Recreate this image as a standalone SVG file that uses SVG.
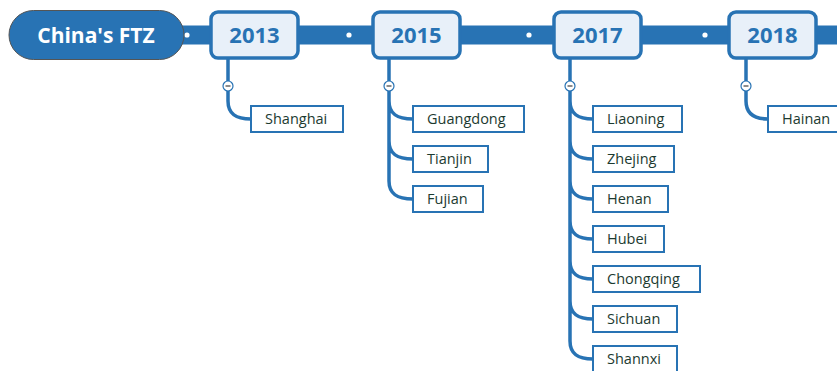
<svg xmlns="http://www.w3.org/2000/svg" width="837" height="371" viewBox="0 0 837 371">
<style>
.bar{fill:#2873b4}
.conn{fill:none;stroke:#2873b4;stroke-width:3.5;stroke-linecap:round}
.year rect{fill:#e8f0f9;stroke:#2873b4;stroke-width:3.5}
.year text{font-family:"Open Sans","Noto Sans",sans-serif;font-weight:bold;font-size:22px;fill:#2873b4;text-anchor:middle}
.child rect{fill:#fff;stroke:#2873b4;stroke-width:2}
.child text{font-family:"Open Sans","Noto Sans",sans-serif;font-size:14.5px;fill:#1c3a30}
.dot{fill:#fff}
.tog circle{fill:#fff;stroke:#2873b4;stroke-width:1.2}
.tog line{stroke:#666;stroke-width:1.5}
</style>
<g id="connectors">
<rect class="bar" x="180" y="25.5" width="660" height="19"/>
<circle class="dot" cx="187" cy="35" r="2.6"/>
<circle class="dot" cx="349" cy="35" r="2.6"/>
<circle class="dot" cx="529" cy="35" r="2.6"/>
<circle class="dot" cx="705" cy="35" r="2.6"/>
<path class="conn" d="M228,59 V101 C228,114 236,119 251,119"/>
<path class="conn" d="M389,59 V101 C389,114 397,119 413,119 M389,101 V141 C389,154 397,159 413,159 M389,141 V181 C389,194 397,199 413,199"/>
<path class="conn" d="M570,59 V101 C570,114 578,119 593,119 M570,101 V141 C570,154 578,159 593,159 M570,141 V181 C570,194 578,199 593,199 M570,181 V221 C570,234 578,239 593,239 M570,221 V261 C570,274 578,279 593,279 M570,261 V301 C570,314 578,319 593,319 M570,301 V341 C570,354 578,359 593,359"/>
<path class="conn" d="M746,59 V101 C746,114 754,119 768,119"/>
<g class="tog"><circle cx="228" cy="86" r="5"/><line x1="225.5" y1="86" x2="230.5" y2="86"/></g>
<g class="tog"><circle cx="389" cy="86" r="5"/><line x1="386.5" y1="86" x2="391.5" y2="86"/></g>
<g class="tog"><circle cx="570" cy="86" r="5"/><line x1="567.5" y1="86" x2="572.5" y2="86"/></g>
<g class="tog"><circle cx="746" cy="86" r="5"/><line x1="743.5" y1="86" x2="748.5" y2="86"/></g>
</g>
<g id="root">
<rect x="9" y="10.5" width="175" height="49" rx="24.5" fill="#2873b4" stroke="#555" stroke-width="1"/>
<text x="96" y="42.5" font-family="'Open Sans','Noto Sans',sans-serif" font-weight="bold" font-size="21" fill="#fff" text-anchor="middle">China's FTZ</text>
</g>
<g id="y2013" class="year"><rect x="211" y="12" width="87" height="46" rx="7"/><text x="254.5" y="43">2013</text></g>
<g id="y2015" class="year"><rect x="373" y="12" width="87" height="46" rx="7"/><text x="416.5" y="43">2015</text></g>
<g id="y2017" class="year"><rect x="554" y="12" width="87" height="46" rx="7"/><text x="597.5" y="43">2017</text></g>
<g id="y2018" class="year"><rect x="729" y="12" width="87" height="46" rx="7"/><text x="772.5" y="43">2018</text></g>
<g id="shanghai" class="child"><rect x="251" y="106" width="92" height="26"/><text x="265" y="124">Shanghai</text></g>
<g id="guangdong" class="child"><rect x="413" y="106" width="111" height="26"/><text x="427" y="124">Guangdong</text></g>
<g id="tianjin" class="child"><rect x="413" y="146" width="75" height="26"/><text x="427" y="164">Tianjin</text></g>
<g id="fujian" class="child"><rect x="413" y="186" width="70" height="26"/><text x="427" y="204">Fujian</text></g>
<g id="liaoning" class="child"><rect x="593" y="106" width="89" height="26"/><text x="607" y="124">Liaoning</text></g>
<g id="zhejing" class="child"><rect x="593" y="146" width="81" height="26"/><text x="607" y="164">Zhejing</text></g>
<g id="henan" class="child"><rect x="593" y="186" width="75" height="26"/><text x="607" y="204">Henan</text></g>
<g id="hubei" class="child"><rect x="593" y="226" width="71" height="26"/><text x="607" y="244">Hubei</text></g>
<g id="chongqing" class="child"><rect x="593" y="266" width="107" height="26"/><text x="607" y="284">Chongqing</text></g>
<g id="sichuan" class="child"><rect x="593" y="306" width="84" height="26"/><text x="607" y="324">Sichuan</text></g>
<g id="shannxi" class="child"><rect x="593" y="346" width="84" height="26"/><text x="607" y="364">Shannxi</text></g>
<g id="hainan" class="child"><rect x="768" y="106" width="80" height="26"/><text x="782" y="124">Hainan</text></g>
</svg>
